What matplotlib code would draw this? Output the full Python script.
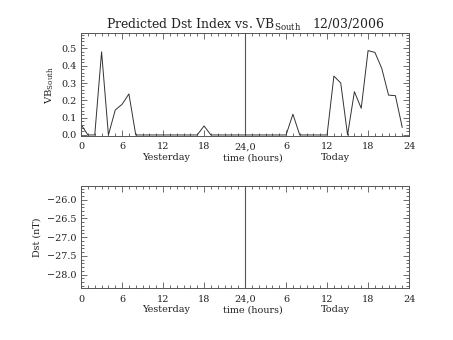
import matplotlib
matplotlib.use("Agg")
import matplotlib.pyplot as plt
from matplotlib.ticker import MultipleLocator, FixedLocator

plt.rcParams['font.family'] = ['DejaVu Serif']
plt.rcParams['mathtext.fontset'] = 'dejavuserif'

hours = list(range(48))
vb_south = [0.06, 0.0, 0.0, 0.48, 0.0, 0.144, 0.177, 0.237, 0.0, 0.0,
            0.0, 0.0, 0.0, 0.0, 0.0, 0.0, 0.0, 0.0, 0.052, 0.0,
            0.0, 0.0, 0.0, 0.0, 0.0, 0.0, 0.0, 0.0, 0.0, 0.0,
            0.0, 0.12, 0.0, 0.0, 0.0, 0.0, 0.0, 0.34, 0.30, 0.0,
            0.25, 0.154, 0.487, 0.477, 0.385, 0.23, 0.227, 0.044]
xtick_pos = [0, 6, 12, 18, 24, 30, 36, 42, 48]
xtick_labels = ['0', '6', '12', '18', '24,0', '6', '12', '18', '24']
dst_ticks = [-28.0, -27.5, -27.0, -26.5, -26.0]

fig = plt.figure(figsize=(4.53, 3.40), dpi=100)
ax1 = fig.add_axes([0.179, 0.600, 0.724, 0.302])
ax2 = fig.add_axes([0.179, 0.152, 0.724, 0.302])

axcol = '#555555'
tcol = '#222222'
fs = 6.9

def style(ax):
    ax.set_xlim(0, 48)
    ax.set_xticks(xtick_pos)
    ax.set_xticklabels(xtick_labels, fontsize=fs)
    ax.xaxis.set_minor_locator(MultipleLocator(1))
    ax.tick_params(which='both', direction='in', top=True, right=True,
                   colors=axcol, labelcolor=tcol, width=0.6)
    ax.tick_params(which='major', length=4)
    ax.tick_params(which='minor', length=2)
    ax.tick_params(axis='x', which='major', pad=4.5)
    ax.tick_params(axis='y', which='major', pad=3)
    for s in ax.spines.values():
        s.set_color(axcol)
        s.set_linewidth(0.7)
    ax.axvline(24, color='#555555', lw=0.8)
    for xv, txt in [(12.4, 'Yesterday'), (25.2, 'time (hours)'), (37.2, 'Today')]:
        ax.text(xv, -0.235, txt, transform=ax.get_xaxis_transform(),
                ha='center', va='baseline', fontsize=fs, color=tcol)

style(ax1)
ax1.plot(hours, vb_south, color='#333333', lw=0.7)
ax1.yaxis.set_major_locator(FixedLocator([0.0, 0.1, 0.2, 0.3, 0.4, 0.5]))
ax1.yaxis.set_minor_locator(MultipleLocator(0.02))
ax1.set_yticklabels(['0.0', '0.1', '0.2', '0.3', '0.4', '0.5'], fontsize=fs)
ax1.set_ylim(-0.006, 0.587)
ax1.set_ylabel(r'VB$_{\rm South}$', fontsize=fs + 0.4, color=tcol, labelpad=4)
ax1.set_title(r'Predicted Dst Index vs. VB$_{\rm South}$   12/03/2006',
              fontsize=8.9, color=tcol, pad=2)

style(ax2)
ax2.set_ylim(-28.37, -25.62)
ax2.yaxis.set_major_locator(FixedLocator(dst_ticks))
ax2.yaxis.set_minor_locator(MultipleLocator(0.1))
ax2.set_yticklabels([f'\u2212{abs(v):.1f}' for v in dst_ticks], fontsize=fs)
ax2.set_ylabel('Dst (nT)', fontsize=fs, color=tcol, labelpad=4)

fig.savefig('out.png', dpi=100)
